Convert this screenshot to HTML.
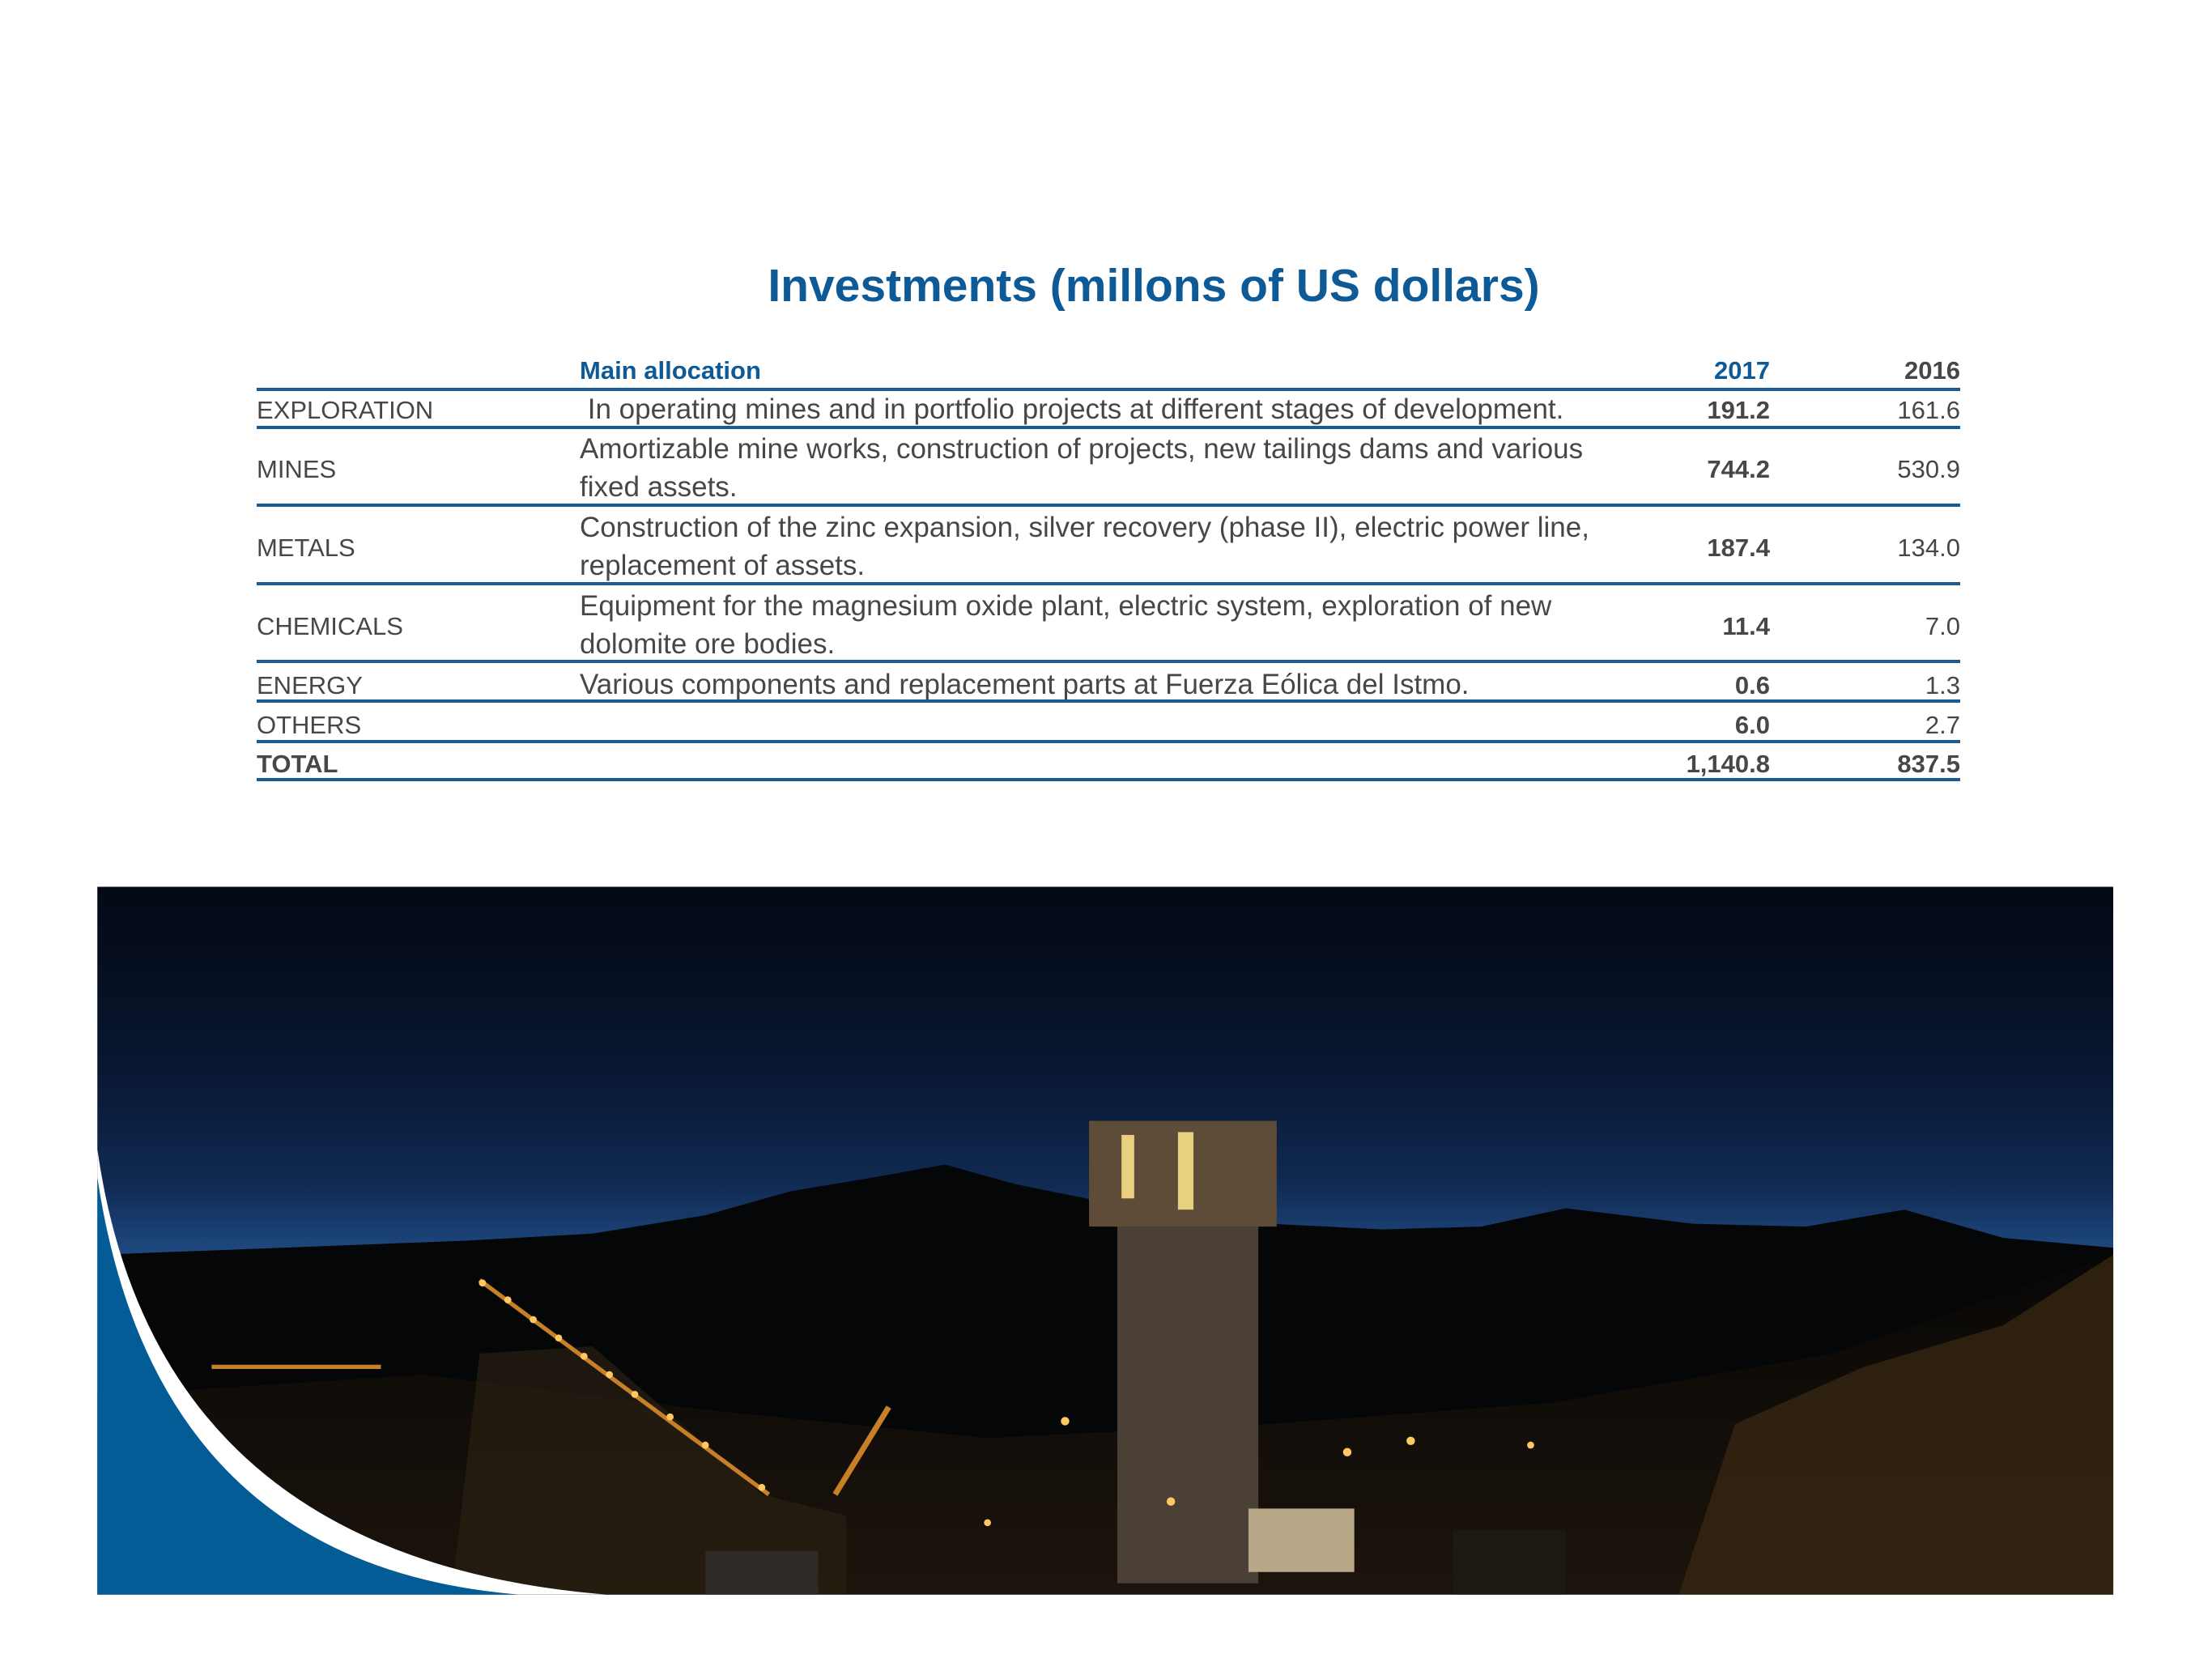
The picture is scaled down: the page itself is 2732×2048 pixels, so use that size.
<!DOCTYPE html>
<html><head><meta charset="utf-8">
<style>
html,body{margin:0;padding:0;background:#fff;}
body{width:2732px;height:2048px;position:relative;overflow:hidden;font-family:"Liberation Sans",sans-serif;color:#474747;}
.t{position:absolute;white-space:nowrap;font-size:31px;line-height:47px;}
.d{font-size:35px;}
.b{font-weight:bold;}
.r{text-align:right;}
.ln{position:absolute;left:317px;width:2104px;height:4px;background:#1a5c96;}
.hd{color:#0d5a97;font-weight:bold;}
</style></head>
<body>
<div class="t" style="left:0;width:2850px;text-align:center;top:318px;font-size:57px;line-height:70px;font-weight:bold;color:#0d5a97;">Investments (millons of US dollars)</div>

<div>
<div class="t hd" style="left:716px;top:434px;">Main allocation</div>
<div class="t hd r" style="left:1986px;width:200px;top:434px;">2017</div>
<div class="t hd r" style="left:2221px;width:200px;top:434px;color:#474747;">2016</div>
<div class="ln" style="top:479px;"></div>

<div>
<div class="t" style="left:317px;top:483px;">EXPLORATION</div>
<div class="t d" style="left:716px;top:482px;">&nbsp;In operating mines and in portfolio projects at different stages of development.</div>
<div class="t b r" style="left:1986px;width:200px;top:483px;">191.2</div>
<div class="t r" style="left:2221px;width:200px;top:483px;">161.6</div>
</div>
<div class="ln" style="top:526px;"></div>

<div>
<div class="t" style="left:317px;top:556px;">MINES</div>
<div class="t d" style="left:716px;top:531px;">Amortizable mine works, construction of projects, new tailings dams and various<br>fixed assets.</div>
<div class="t b r" style="left:1986px;width:200px;top:556px;">744.2</div>
<div class="t r" style="left:2221px;width:200px;top:556px;">530.9</div>
</div>
<div class="ln" style="top:622px;"></div>

<div>
<div class="t" style="left:317px;top:653px;">METALS</div>
<div class="t d" style="left:716px;top:628px;">Construction of the zinc expansion, silver recovery (phase II), electric power line,<br>replacement of assets.</div>
<div class="t b r" style="left:1986px;width:200px;top:653px;">187.4</div>
<div class="t r" style="left:2221px;width:200px;top:653px;">134.0</div>
</div>
<div class="ln" style="top:719px;"></div>

<div>
<div class="t" style="left:317px;top:750px;">CHEMICALS</div>
<div class="t d" style="left:716px;top:725px;">Equipment for the magnesium oxide plant, electric system, exploration of new<br>dolomite ore bodies.</div>
<div class="t b r" style="left:1986px;width:200px;top:750px;">11.4</div>
<div class="t r" style="left:2221px;width:200px;top:750px;">7.0</div>
</div>
<div class="ln" style="top:815px;"></div>

<div>
<div class="t" style="left:317px;top:823px;">ENERGY</div>
<div class="t d" style="left:716px;top:822px;">Various components and replacement parts at Fuerza Eólica del Istmo.</div>
<div class="t b r" style="left:1986px;width:200px;top:823px;">0.6</div>
<div class="t r" style="left:2221px;width:200px;top:823px;">1.3</div>
</div>
<div class="ln" style="top:864px;"></div>

<div>
<div class="t" style="left:317px;top:872px;">OTHERS</div>
<div class="t b r" style="left:1986px;width:200px;top:872px;">6.0</div>
<div class="t r" style="left:2221px;width:200px;top:872px;">2.7</div>
</div>
<div class="ln" style="top:914px;"></div>

<div>
<div class="t b" style="left:317px;top:920px;">TOTAL</div>
<div class="t b r" style="left:1986px;width:200px;top:920px;">1,140.8</div>
<div class="t b r" style="left:2221px;width:200px;top:920px;">837.5</div>
</div>
<div class="ln" style="top:961px;"></div>
</div>

<svg style="position:absolute;left:0;top:0;" width="2732" height="2048" viewBox="0 0 1568 1176" preserveAspectRatio="none">
<defs>
<linearGradient id="sky" x1="0" y1="0" x2="0" y2="1">
<stop offset="0" stop-color="#040914"/>
<stop offset="0.25" stop-color="#081630"/>
<stop offset="0.42" stop-color="#102a52"/>
<stop offset="0.55" stop-color="#23538f"/>
<stop offset="1" stop-color="#2a5d9c"/>
</linearGradient>
<linearGradient id="ground" x1="0" y1="0" x2="0" y2="1">
<stop offset="0" stop-color="#080706"/>
<stop offset="1" stop-color="#1c140c"/>
</linearGradient>
</defs>
<rect x="69" y="629" width="1429" height="502" fill="url(#sky)"/>
<path d="M69,890 L200,885 L330,880 L420,875 L500,862 L560,845 L620,835 L670,826 L720,840 L770,850 L830,865 L900,868 L980,872 L1050,870 L1110,857 L1200,868 L1280,870 L1350,858 L1420,878 L1498,885 L1498,1131 L69,1131 Z" fill="#050607"/>
<path d="M69,990 L300,975 L500,1000 L700,1020 L900,1010 L1100,995 L1300,960 L1498,890 L1498,1131 L69,1131 Z" fill="url(#ground)"/>
<path d="M1190,1131 L1230,1010 L1320,970 L1420,940 L1498,890 L1498,1131 Z" fill="#3a2812" opacity="0.75"/>
<path d="M340,960 L420,955 L540,1060 L600,1075 L600,1131 L320,1131 Z" fill="#2a2012" opacity="0.7"/>
<rect x="792" y="868" width="100" height="255" fill="#4a4036"/>
<rect x="772" y="795" width="133" height="75" fill="#5e4c38"/>
<rect x="795" y="805" width="9" height="45" fill="#e8d080"/>
<rect x="835" y="803" width="11" height="55" fill="#e8d080"/>
<rect x="885" y="1070" width="75" height="45" fill="#b8a888"/>
<line x1="340" y1="908" x2="545" y2="1060" stroke="#c88028" stroke-width="3"/>
<line x1="592" y1="1060" x2="630" y2="998" stroke="#c88028" stroke-width="4"/>
<g fill="#ffc860">
<circle cx="342" cy="910" r="2.5"/><circle cx="360" cy="922" r="2.5"/><circle cx="378" cy="936" r="2.5"/><circle cx="396" cy="949" r="2.5"/><circle cx="414" cy="962" r="2.5"/><circle cx="432" cy="975" r="2.5"/><circle cx="450" cy="989" r="2.5"/><circle cx="475" cy="1005" r="2.5"/><circle cx="500" cy="1025" r="2.5"/><circle cx="540" cy="1055" r="2.5"/>
<circle cx="755" cy="1008" r="3"/><circle cx="830" cy="1065" r="3"/><circle cx="955" cy="1030" r="3"/><circle cx="1000" cy="1022" r="3"/><circle cx="1085" cy="1025" r="2.5"/><circle cx="700" cy="1080" r="2.5"/>
</g>
<rect x="150" y="968" width="120" height="3" fill="#c88028"/>
<rect x="1030" y="1085" width="80" height="46" fill="#1c1812"/>
<rect x="500" y="1100" width="80" height="31" fill="#2e2a26"/>
<path d="M69,815 Q110,1105 430,1131 L69,1131 Z" fill="#ffffff"/>
<path d="M69,835 Q110,1110 368,1131 L69,1131 Z" fill="#035c95"/>
</svg>
</body></html>
